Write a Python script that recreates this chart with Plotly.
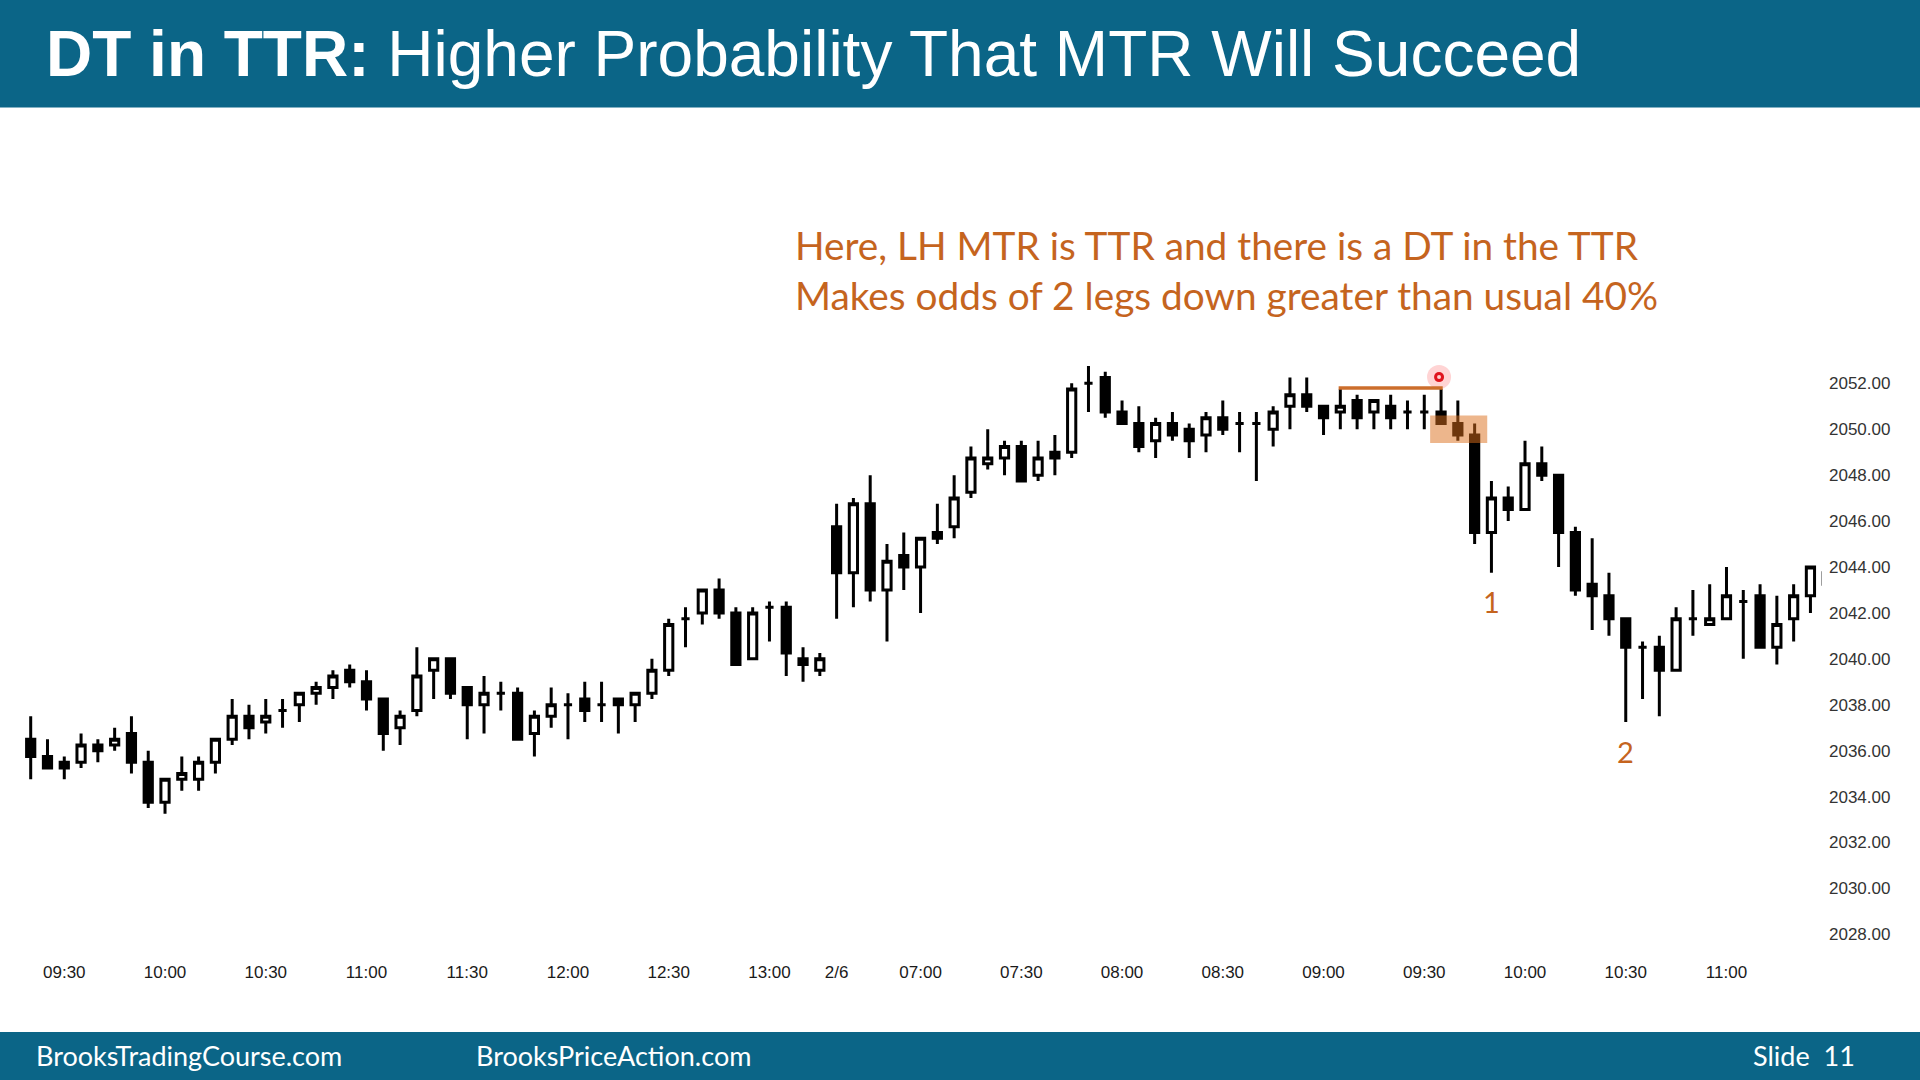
import plotly.graph_objects as go

# ---------------- data ----------------
opens = [2036.5, 2035.75, 2035.5, 2035.5, 2036.25, 2036.25, 2036.75, 2035.5, 2033.75, 2034.75,
         2034.75, 2035.5, 2036.5, 2037.5, 2037.25, 2037.75, 2038.0, 2038.5, 2038.75, 2039.5,
         2039.0, 2038.25, 2037.0, 2037.75, 2039.5, 2040.0, 2038.75, 2038.0, 2038.5, 2038.5,
         2036.75, 2037.5, 2038.0, 2038.25, 2038.0, 2038.25, 2038.0, 2038.5, 2039.5, 2041.75,
         2042.0, 2043.0, 2042.0, 2040.0, 2042.25, 2042.25, 2040.0, 2039.5,
         2045.75, 2043.75, 2046.75, 2043.0, 2044.5, 2044.0, 2045.5, 2045.75, 2047.25, 2048.5,
         2048.75, 2049.25, 2048.0, 2049.0, 2049.0, 2052.0, 2052.25, 2050.75, 2050.25, 2049.5,
         2050.25, 2050.0, 2049.75, 2050.5, 2050.25, 2050.25, 2050.0, 2051.0, 2051.5, 2051.0,
         2050.75, 2051.25, 2050.75, 2051.0, 2050.75, 2050.75, 2050.75, 2050.25, 2049.75, 2045.5,
         2047.0, 2046.5, 2048.5, 2048.0, 2045.5, 2043.25, 2042.75, 2041.75, 2040.5, 2040.5,
         2039.5, 2041.75, 2041.5, 2041.75, 2042.5, 2042.75, 2040.5, 2041.75, 2042.75, 2043.25]
highs = [2037.5, 2036.5, 2035.75, 2036.75, 2036.5, 2037.0, 2037.5, 2036.0, 2034.75, 2035.75,
         2035.75, 2036.5, 2038.25, 2038.0, 2038.25, 2038.25, 2038.5, 2039.0, 2039.5, 2039.75,
         2039.5, 2038.25, 2037.75, 2040.5, 2040.0, 2040.0, 2038.75, 2039.25, 2039.0, 2038.75,
         2037.75, 2038.75, 2038.5, 2039.0, 2039.0, 2038.25, 2038.5, 2040.0, 2041.75, 2042.25,
         2043.0, 2043.5, 2042.25, 2042.25, 2042.5, 2042.5, 2040.5, 2040.25,
         2046.75, 2047.0, 2048.0, 2045.0, 2045.5, 2045.25, 2046.75, 2048.0, 2049.25, 2050.0,
         2049.5, 2049.5, 2049.5, 2049.75, 2052.0, 2052.75, 2052.5, 2051.25, 2051.0, 2050.5,
         2050.75, 2050.25, 2050.75, 2051.25, 2050.75, 2050.75, 2051.0, 2052.25, 2052.25, 2051.0,
         2051.75, 2051.5, 2051.25, 2051.5, 2051.25, 2051.5, 2051.75, 2051.25, 2050.25, 2047.75,
         2047.5, 2049.5, 2049.25, 2048.0, 2045.75, 2045.25, 2043.75, 2041.75, 2040.75, 2041.0,
         2042.25, 2043.0, 2043.25, 2044.0, 2043.0, 2043.25, 2042.75, 2043.25, 2044.0, 2044.0]
lows = [2034.75, 2035.25, 2034.75, 2035.25, 2035.5, 2036.0, 2035.0, 2033.5, 2033.25, 2034.25,
        2034.25, 2035.0, 2036.25, 2036.5, 2036.75, 2037.0, 2037.25, 2038.0, 2038.25, 2038.75,
        2037.75, 2036.0, 2036.25, 2037.5, 2038.25, 2038.25, 2036.5, 2036.75, 2037.75, 2036.5,
        2035.75, 2037.0, 2036.5, 2037.25, 2037.25, 2036.75, 2037.25, 2038.25, 2039.25, 2040.5,
        2041.5, 2041.75, 2039.75, 2040.0, 2040.75, 2039.25, 2039.0, 2039.25,
        2041.75, 2042.25, 2042.5, 2040.75, 2043.0, 2042.0, 2045.0, 2045.25, 2047.0, 2048.25,
        2048.0, 2047.75, 2047.75, 2048.0, 2048.75, 2050.75, 2050.5, 2050.25, 2049.0, 2048.75,
        2049.5, 2048.75, 2049.0, 2049.75, 2049.0, 2047.75, 2049.25, 2050.0, 2050.75, 2049.75,
        2050.0, 2050.0, 2050.0, 2050.0, 2050.0, 2050.0, 2050.25, 2049.5, 2045.0, 2043.75,
        2046.0, 2046.5, 2047.75, 2044.0, 2042.75, 2041.25, 2041.0, 2037.25, 2038.25, 2037.5,
        2039.5, 2041.0, 2041.5, 2041.75, 2040.0, 2040.5, 2039.75, 2040.75, 2042.0, 2043.0]
closes = [2035.75, 2035.25, 2035.25, 2036.25, 2036.0, 2036.5, 2035.5, 2033.75, 2034.75, 2035.0,
          2035.5, 2036.5, 2037.5, 2037.0, 2037.5, 2037.75, 2038.5, 2038.75, 2039.25, 2039.0,
          2038.25, 2036.75, 2037.5, 2039.25, 2040.0, 2038.5, 2038.0, 2038.5, 2038.5, 2036.5,
          2037.5, 2038.0, 2038.0, 2037.75, 2038.0, 2038.0, 2038.5, 2039.5, 2041.5, 2041.75,
          2043.0, 2042.0, 2039.75, 2042.0, 2042.25, 2040.25, 2039.75, 2040.0,
          2043.75, 2046.75, 2043.0, 2044.25, 2044.0, 2045.25, 2045.25, 2047.0, 2048.75, 2048.75,
          2049.25, 2047.75, 2048.75, 2048.75, 2051.75, 2052.0, 2050.75, 2050.25, 2049.25, 2050.25,
          2049.75, 2049.5, 2050.5, 2050.0, 2050.25, 2050.25, 2050.75, 2051.5, 2051.0, 2050.5,
          2051.0, 2050.5, 2051.25, 2050.5, 2050.75, 2050.75, 2050.25, 2049.75, 2045.5, 2047.0,
          2046.5, 2048.5, 2048.0, 2045.5, 2043.0, 2042.75, 2041.75, 2040.5, 2040.5, 2039.5,
          2041.75, 2041.75, 2041.75, 2042.75, 2042.5, 2040.5, 2041.5, 2042.75, 2044.0, 2043.75]
bar_index = list(range(len(opens)))

time_tick_index = [2, 8, 14, 20, 26, 32, 38, 44, 48, 53, 59, 65, 71, 77, 83, 89, 95, 101]
time_tick_labels = ["09:30", "10:00", "10:30", "11:00", "11:30", "12:00", "12:30", "13:00", "2/6",
                    "07:00", "07:30", "08:00", "08:30", "09:00", "09:30", "10:00", "10:30", "11:00"]
price_ticks = [2028, 2030, 2032, 2034, 2036, 2038, 2040, 2042, 2044, 2046, 2048, 2050, 2052]
price_tick_labels = ["%.2f" % v for v in price_ticks]

dt_line_start, dt_line_end, dt_level = 78, 84, 2051.8
leg_labels = [("1", 87, 2042.5), ("2", 95, 2035.95)]

# ---------------- layout geometry ----------------
W, H = 1920, 1080
L, R, T, B = 18, 1822, 120, 960
BAR_PX = 16.79
X0_PX = 30.7
PX_PER_PT = 22.96
Y2052_PX = 383.3

def pxx(x):
    return (x - L) / (R - L)

def pxy(y):
    return (B - y) / (B - T)

xr = [(L - X0_PX) / BAR_PX, (R - X0_PX) / BAR_PX]
yr = [2052 - (B - Y2052_PX) / PX_PER_PT, 2052 + (Y2052_PX - T) / PX_PER_PT]

TEAL = "#0B6587"
ORANGE = "#C5641E"

fig = go.Figure()
fig.add_trace(go.Candlestick(
    x=bar_index, open=opens, high=highs, low=lows, close=closes,
    increasing=dict(line=dict(color="black", width=3), fillcolor="white"),
    decreasing=dict(line=dict(color="black", width=3), fillcolor="black"),
    whiskerwidth=0, hoverinfo="skip", showlegend=False,
))

# cursor dot
fig.add_trace(go.Scatter(x=[83.88], y=[2052.27], mode="markers", hoverinfo="skip", showlegend=False,
                         marker=dict(size=24, color="rgba(255,60,60,0.22)", line=dict(width=0))))
fig.add_trace(go.Scatter(x=[83.88], y=[2052.27], mode="markers", hoverinfo="skip", showlegend=False,
                         marker=dict(size=10, color="#E0141E", line=dict(width=0))))
fig.add_trace(go.Scatter(x=[83.88], y=[2052.27], mode="markers", hoverinfo="skip", showlegend=False,
                         marker=dict(size=4, color="#FFD0D0", line=dict(width=0))))

shapes = [
    dict(type="rect", xref="paper", yref="paper", x0=pxx(0), x1=pxx(W), y0=pxy(107.5), y1=pxy(0),
         fillcolor=TEAL, line=dict(width=0), layer="below"),
    dict(type="rect", xref="paper", yref="paper", x0=pxx(0), x1=pxx(W), y0=pxy(H), y1=pxy(1032),
         fillcolor=TEAL, line=dict(width=0), layer="below"),
    dict(type="line", xref="x", yref="y", x0=dt_line_start - 0.1, x1=dt_line_end + 0.1,
         y0=dt_level, y1=dt_level, line=dict(color="#CC6E2C", width=3.5), layer="above"),
    dict(type="rect", xref="x", yref="y", x0=83.35, x1=86.75, y0=2049.4, y1=2050.6,
         fillcolor="rgba(220,110,25,0.5)", line=dict(width=0), layer="above"),
]

annotations = [
    dict(xref="paper", yref="paper", x=pxx(44), y=pxy(54), xanchor="left", yanchor="middle",
         text="<b>DT in TTR:</b> Higher Probability That MTR Will Succeed", showarrow=False,
         font=dict(family="Liberation Sans, Arial", size=64, color="white")),
    dict(xref="paper", yref="paper", x=pxx(793), y=pxy(245), xanchor="left", yanchor="middle",
         text="Here, LH MTR is TTR and there is a DT in the TTR", showarrow=False,
         font=dict(family="Lato", size=38.8, color=ORANGE)),
    dict(xref="paper", yref="paper", x=pxx(793), y=pxy(295), xanchor="left", yanchor="middle",
         text="Makes odds of 2 legs down greater than usual 40%", showarrow=False,
         font=dict(family="Lato", size=38.8, color=ORANGE)),
    dict(xref="paper", yref="paper", x=pxx(34), y=pxy(1055), xanchor="left", yanchor="middle",
         text="BrooksTradingCourse.com", showarrow=False,
         font=dict(family="Lato", size=27, color="white")),
    dict(xref="paper", yref="paper", x=pxx(474), y=pxy(1055), xanchor="left", yanchor="middle",
         text="BrooksPriceAction.com", showarrow=False,
         font=dict(family="Lato", size=27, color="white")),
    dict(xref="paper", yref="paper", x=pxx(1751), y=pxy(1055), xanchor="left", yanchor="middle",
         text="Slide\u00a0 11", showarrow=False,
         font=dict(family="Lato", size=27, color="white")),
]
for txt, xi, yv in leg_labels:
    annotations.append(dict(xref="x", yref="y", x=xi, y=yv, text=txt, showarrow=False,
                            xanchor="center", yanchor="middle",
                            font=dict(family="Lato", size=29, color=ORANGE)))

fig.update_layout(
    width=W, height=H,
    margin=dict(l=L, r=W - R, t=T, b=H - B),
    paper_bgcolor="white", plot_bgcolor="rgba(0,0,0,0)",
    shapes=shapes, annotations=annotations, showlegend=False,
    xaxis=dict(range=xr, tickmode="array", tickvals=time_tick_index, ticktext=time_tick_labels,
               showgrid=False, zeroline=False, showline=False, ticks="",
               tickfont=dict(family="Liberation Sans, Arial", size=17, color="#1a1a1a"),
               rangeslider=dict(visible=False), fixedrange=True),
    yaxis=dict(range=yr, side="right", tickmode="array", tickvals=price_ticks, ticktext=price_tick_labels,
               showgrid=False, zeroline=False, showline=False, ticks="", ticklabelstandoff=6,
               tickfont=dict(family="Liberation Sans, Arial", size=17, color="#333333"),
               fixedrange=True),
)

fig.write_html("out.html")
